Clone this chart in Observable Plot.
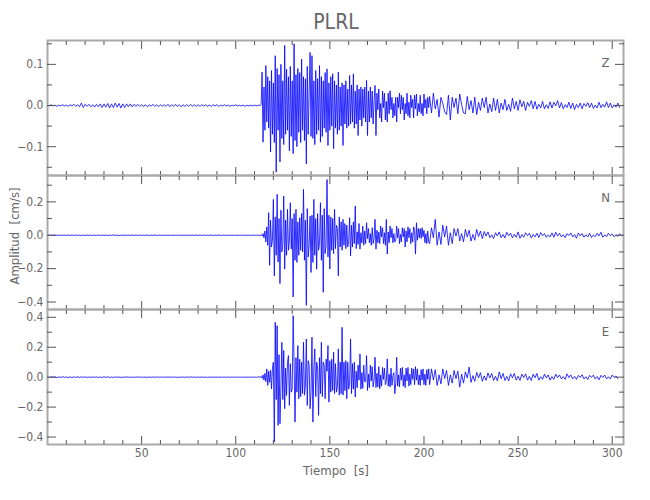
<!DOCTYPE html>
<html><head><meta charset="utf-8">
<script src="https://cdn.jsdelivr.net/npm/d3@7"></script>
<script src="https://cdn.jsdelivr.net/npm/@observablehq/plot@0.6"></script>
<style>
body{margin:0;background:#fff;}
#chart{position:relative;width:650px;height:500px;font-family:"Liberation Sans Narrow","DejaVu Sans Condensed",sans-serif;color:#666;}
#chart svg{position:absolute;left:0;top:0;}
.lbl{position:absolute;white-space:pre;color:#666;}
</style></head><body><div id="chart"></div>
<script>
// Velocity traces, in units of 0.001 cm/s.
// Pre-event: t = 0..112 s every 1 s; strong motion: t = 113..202.5 s every 0.5 s; coda: t = 203 s onward every 1 s.
const zPre = [1,-1,2,-1,1,-2,1,-1,2,-1,1,
 -2,2,-1,3,-2,2,-3,6,-5,3,
 -2,3,-3,2,-4,3,-3,4,-5,4,
 -4,5,-6,4,-5,6,-4,5,-6,4,
 -5,4,-3,4,-3,3,-2,3,-2,2,
 -2,2,-3,2,-2,3,-2,2,-3,2,
 -2,2,-2,3,-3,2,-2,3,-2,2,
 -3,2,-2,2,-2,3,-2,2,-2,2,
 -2,2,-1,2,-2,1,-2,2,-1,2,
 -2,1,-1,2,-1,1,-2,1,-1,2,
 -1,1,-1,1,-2,1,-1,1,-1,1,-1,1];
const zStrong = [0,2,81,-89,45,-60,97,-40,70,-55,
 60,-113,85,-70,55,-90,121,-162,90,-60,
 75,-137,100,-80,60,-95,146,-70,88,-60,
 70,-110,95,-75,60,-117,150,-85,75,-100,
 90,-65,80,-90,113,-60,70,-85,65,-142,
 95,-70,30,129,-75,121,-80,60,-95,85,
 -70,65,-60,97,-89,70,-75,60,-55,80,
 -65,89,-97,55,-60,70,-50,77,-105,60,
 -55,50,-70,81,-60,45,-50,55,-97,50,
 -45,60,-55,40,-50,73,-45,50,-40,77,
 -55,35,-45,50,-73,40,-35,45,-50,40,
 -30,45,-40,61,-73,35,-40,45,-30,35,
 -45,10,49,-73,30,-10,40,-30,5,-40,
 35,-5,30,-35,10,-40,30,-20,36,-10,
 20,-30,5,-25,20,-40,20,-5,30,-20,
 25,-10,20,-35,5,-20,30,-25,8,-30,
 25,-5,15,-30,25,-8,28,-25,5,-15,
 25,-20,5,-25,28,-6,15,-20,20,-5];
const zCoda = [22,-18,30,-8,15,-28,20,5,-15,-22,
 25,-35,20,-5,18,-20,28,2,-18,-20,
 22,-10,12,-18,20,-22,8,-12,18,-5,
 20,-18,4,-15,18,-12,15,-18,6,-10,
 15,-12,3,-14,18,-8,10,-12,14,-3,
 10,-12,8,-2,12,-8,10,-9,3,-6,
 10,-8,2,-7,9,-6,8,-1,12,-6,
 7,-8,2,-5,8,-7,6,-10,3,-5,
 6,-8,5,-2,7,-5,6,-7,1,-6,
 8,-5,3,-4,9,-5,6,-6,2,-4,
 6,-5];

const nPre = [0,1,-1,1,-1,1,-1,1,-1,1,-1,
 1,-1,1,-1,2,-1,1,-2,1,-1,
 1,-1,1,-1,1,-2,2,-1,1,-1,
 1,-2,1,-1,2,-1,1,-2,1,-1,
 1,-1,1,-1,1,-1,1,-1,1,-1,
 1,-1,1,-1,1,-1,1,-1,1,-1,
 1,-1,1,-1,1,-1,1,-1,1,-1,
 1,-1,1,-1,1,-1,1,-1,1,-1,
 1,-1,1,-1,1,-1,1,-1,1,-1,
 1,-1,1,-1,1,-1,1,-1,1,-1,
 1,-1,1,-1,1,-1,1,-1,1,-1,1,-1];
const nStrong = [0,3,-5,10,-15,25,-40,50,-60,135,
 -180,90,-70,-30,215,-243,110,-120,245,-160,
 100,-290,150,-100,-60,235,-203,90,-120,155,
 -90,-40,195,-83,100,-370,130,-150,155,-163,
 80,-120,105,-90,130,-100,275,-150,90,-420,
 160,-130,-60,115,-223,120,-163,215,-120,100,
 -203,130,-90,-50,195,-150,120,-342,160,-110,
 -60,334,-130,120,-203,110,-90,100,-110,155,
 -80,60,40,-243,110,-70,80,-90,95,-60,
 70,-80,60,-70,-40,105,-123,60,-70,80,
 -50,175,-80,20,-55,70,-83,15,-45,55,
 -60,25,-50,75,-20,40,-45,10,-60,45,
 -50,-20,95,-83,30,-45,20,-50,55,-10,
 45,-50,15,-60,95,-113,20,-45,55,-15,
 40,-45,10,-40,-30,55,-15,40,-50,5,
 -40,45,-10,40,-70,25,-40,50,-15,40,
 -50,15,-40,50,30,-113,75,-30,40,-15,
 40,-20,45,-10,30,-45,10,-50,25,-40];
const nCoda = [-50,45,-15,95,-60,20,-55,60,-10,55,
 -60,15,-50,40,-5,40,-35,10,-40,35,
 -10,30,-35,5,-30,35,-8,25,-20,22,
 -5,20,-15,3,-20,15,-4,20,-15,5,
 -16,18,-3,12,-15,6,-12,20,-18,4,
 -12,15,-2,12,-16,5,-10,12,-14,16,
 -3,10,-13,2,-10,14,-12,18,-5,12,
 -10,3,-14,10,-2,14,-10,4,-18,14,
 -4,10,-12,3,-10,12,-14,2,-9,12,
 -4,18,-12,2,-8,12,-3,8,-9,3,
 -7,8,-2,5];

const ePre = [1,-2,2,-1,2,-3,2,-2,3,-2,1,
 -2,2,-3,2,-2,3,-2,2,-1,2,
 -2,1,-2,2,-1,2,-2,1,-2,2,
 -1,2,-2,1,-2,2,-1,1,-2,1,
 -1,2,-1,1,-2,1,-1,2,-1,1,
 -1,1,-2,1,-1,1,-1,2,-1,1,
 -1,1,-1,2,-1,1,-1,1,-2,1,
 -1,1,-1,1,-1,2,-1,1,-1,1,
 -1,1,-1,1,-2,1,-1,1,-1,1,
 -1,1,-1,1,-1,1,-1,1,-1,1,
 -1,1,-1,1,-1,1,-1,1,-1,1,-1,2];
const eStrong = [0,5,-8,15,-20,25,-30,55,-55,40,
 -35,45,-78,60,100,-433,367,-150,344,-322,
 150,-311,-60,233,-150,178,-211,60,-122,100,
 144,-189,90,-100,-80,411,100,-300,130,-100,
 211,-144,120,-130,100,-110,233,-120,-60,255,
 -189,110,80,-211,-100,267,-300,60,189,-130,
 100,60,-255,130,-110,233,-130,100,80,-144,
 120,40,211,-167,110,-100,120,-90,167,-110,
 90,-100,-70,189,-120,100,-110,333,-120,100,
 -90,110,-144,100,-80,-40,255,-110,90,-80,
 100,-133,40,-70,80,-20,155,-80,30,-75,
 80,-30,-30,144,-89,20,-70,80,-25,70,
 -65,-20,133,-70,25,-65,70,-78,15,-60,
 65,-15,60,-50,-30,122,-60,20,-65,60,
 -55,10,30,-111,-40,133,-60,15,-65,60,
 -20,65,-60,15,-70,60,-25,65,-60,20,
 -50,60,-15,55,-50,70,-20,55,-50,15,
 -55,50,-20,55,-50,20,-55,50,-15,55];
const eCoda = [-50,55,-20,50,-55,15,-45,55,-10,45,
 -55,15,-40,45,-10,40,-67,20,-40,35,
 -5,67,-35,10,-28,32,-5,30,-28,8,
 -22,28,-5,25,-22,6,-25,35,-10,25,
 -22,5,-25,22,-4,25,-20,6,-22,20,
 -3,22,-20,5,-22,20,-4,25,-20,3,
 -15,20,-5,15,-20,4,-15,20,-3,15,
 -12,4,-15,22,-3,15,-12,5,-15,12,
 -2,16,-12,3,-16,12,-2,14,-12,4,
 -18,12,-2,14,-12,3,-12,14,-2,8,
 -10];

// Axis ticks
const xMajor = [50,100,150,200,250,300];
const xMinor = d3.range(10, 306, 10).filter(t => t % 50 !== 0);
const zMajor = [-0.1, 0, 0.1], zMinor = [-0.15, -0.05, 0.05, 0.15];
const nMajor = [-0.4, -0.2, 0, 0.2], nMinor = [-0.3, -0.1, 0.1, 0.3];
const eMajor = [-0.4, -0.2, 0, 0.2, 0.4], eMinor = [-0.3, -0.1, 0.1, 0.3];
const channels = ["Z", "N", "E"];
const xDomain = [0, 306];
const yDomains = [[-0.170, 0.158], [-0.445, 0.358], [-0.450, 0.452]];

function build(pre, strong, coda) {
  const pts = [];
  pre.forEach((v, i) => pts.push({t: i, v: v / 1000}));
  strong.forEach((v, i) => pts.push({t: 113 + i * 0.5, v: v / 1000}));
  coda.forEach((v, i) => pts.push({t: 203 + i, v: v / 1000}));
  return pts;
}

const traces = [build(zPre, zStrong, zCoda), build(nPre, nStrong, nCoda), build(ePre, eStrong, eCoda)];
const majors = [zMajor, nMajor, eMajor], minors = [zMinor, nMinor, eMinor];
const frames = [[40, 175], [175, 309], [309, 444]];
const fmt = d3.format(".1f");
const chart = document.getElementById("chart");
const FONT = '"Liberation Sans Narrow","DejaVu Sans Condensed",sans-serif';
const TICK = "#555", TXT = "#666";

traces.forEach((pts, k) => {
  const [top, bottom] = frames[k];
  const last = k === 2;
  const marks = [
    Plot.line(pts, {x: "t", y: "v", stroke: "#0000ff", strokeWidth: 0.8, clip: true}),
    Plot.frame({stroke: "#aaa", strokeWidth: 2}),
    Plot.axisX(xMinor, {anchor: "bottom", tickSize: -4, tickFormat: () => "", stroke: TICK, label: null}),
    Plot.axisX(xMajor, {anchor: "bottom", tickSize: -8, tickFormat: () => "", stroke: TICK, label: null}),
    Plot.axisX(xMinor, {anchor: "top", tickSize: -4, tickFormat: () => "", stroke: TICK, label: null}),
    Plot.axisX(xMajor, {anchor: "top", tickSize: -8, tickFormat: () => "", stroke: TICK, label: null}),
    Plot.axisY(minors[k], {anchor: "left", tickSize: -5, tickFormat: () => "", stroke: TICK, label: null}),
    Plot.axisY(majors[k], {anchor: "left", tickSize: -9, tickFormat: () => "", stroke: TICK, label: null}),
    Plot.axisY(minors[k], {anchor: "right", tickSize: -5, tickFormat: () => "", stroke: TICK, label: null}),
    Plot.axisY(majors[k], {anchor: "right", tickSize: -9, tickFormat: () => "", stroke: TICK, label: null}),
    Plot.axisY(majors[k], {anchor: "left", tickSize: 0, tickPadding: 4, tickFormat: fmt, fill: TXT, fontSize: 12, label: null}),
    Plot.text([channels[k]], {frameAnchor: "top-right", dx: -18, dy: 22, textAnchor: "middle", lineAnchor: "middle", fill: TXT, fontSize: 13})
  ];
  if (last) marks.push(Plot.axisX(xMajor, {anchor: "bottom", tickSize: 0, tickPadding: 4, fill: TXT, fontSize: 12, label: null}));
  const svg = Plot.plot({
    width: 650, height: 500,
    marginTop: top, marginBottom: 500 - bottom, marginLeft: 47, marginRight: 27,
    x: {domain: xDomain},
    y: {domain: yDomains[k]},
    style: {background: "transparent", overflow: "visible", fontFamily: FONT, fontSize: "12px", color: TXT},
    marks
  });
  chart.appendChild(svg);
});

function label(text, css) {
  const d = document.createElement("div");
  d.className = "lbl";
  d.textContent = text;
  Object.assign(d.style, css);
  chart.appendChild(d);
}
label("PLRL", {left: "336px", top: "22px", transform: "translate(-50%,-50%)", fontSize: "21px"});
label("Tiempo  [s]", {left: "336px", top: "470px", transform: "translate(-50%,-50%)", fontSize: "13px"});
label("Amplitud  [cm/s]", {left: "14px", top: "236px", transform: "translate(-50%,-50%) rotate(-90deg)", fontSize: "13px"});
</script></body></html>
